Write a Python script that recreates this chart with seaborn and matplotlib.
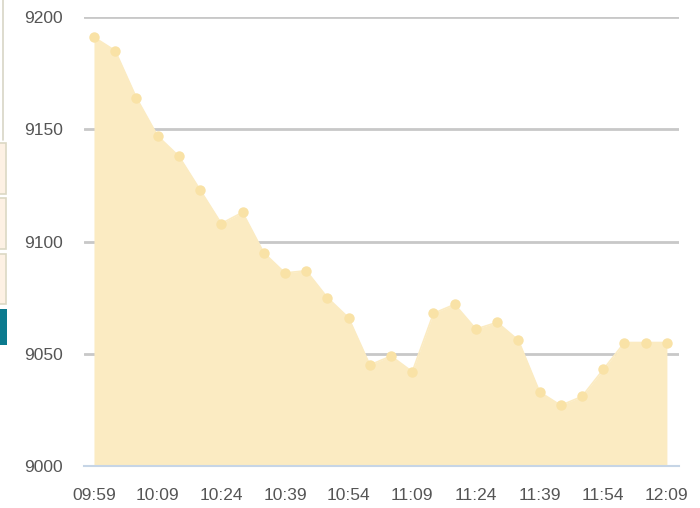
import numpy as np
import pandas as pd
import matplotlib
matplotlib.use("Agg")
import matplotlib.pyplot as plt
import seaborn as sns
from matplotlib.patches import Rectangle
from matplotlib.lines import Line2D

# index level, one point per step
values = [9191, 9185, 9164, 9147, 9138, 9123, 9108, 9113, 9095, 9086,
          9087, 9075, 9066, 9045, 9049, 9042, 9068, 9072, 9061, 9064,
          9056, 9033, 9027, 9031, 9043, 9055, 9055, 9055]
tick_labels = ["09:59", "10:09", "10:24", "10:39", "10:54",
               "11:09", "11:24", "11:39", "11:54", "12:09"]
y_ticks = [9000, 9050, 9100, 9150, 9200]

df = pd.DataFrame({"step": np.arange(len(values)), "level": values})

sns.set_theme(style="white")
plt.rcParams["font.family"] = ["Liberation Sans", "DejaVu Sans"]

fig = plt.figure(figsize=(7, 5.08), dpi=100)
ax = fig.add_axes([84 / 700, 1 - 466 / 508, (679 - 84) / 700, (466 - 17) / 508])

fill_col = "#fbebc2"
mark_col = "#f9e2a6"

ax.fill_between(df["step"], df["level"], 9000, color=fill_col, lw=0, zorder=2)
sns.lineplot(data=df, x="step", y="level", ax=ax, color=fill_col, lw=1.2,
             marker="o", markersize=7.5, markerfacecolor=mark_col,
             markeredgewidth=0, zorder=3)

ax.set_xlim(-0.47, 27.57)
ax.set_ylim(9000, 9200)
ax.set_yticks(y_ticks)
ax.set_yticklabels([str(v) for v in y_ticks], color="#555555", fontsize=12.5)
ax.set_xticks(df["step"][::3])
ax.set_xticklabels(tick_labels, color="#555555", fontsize=12.5)
ax.set_xlabel("")
ax.set_ylabel("")

ax.grid(axis="y", color="#c8c8c8", lw=2, zorder=1)
for s in ["top", "right", "left"]:
    ax.spines[s].set_visible(False)
ax.spines["bottom"].set_color("#c6d5e6")
ax.spines["bottom"].set_linewidth(1.5)
ax.spines["bottom"].set_zorder(4)
ax.tick_params(axis="x", length=12, width=1.2, color="#c6d5e6", pad=4)
ax.tick_params(axis="y", length=0, pad=15)

# leftover page widgets at the left edge
H = 508
fig.add_artist(Line2D([3 / 700, 3 / 700], [1, 1 - 140 / H], color="#d8d6c6", lw=1.2))
for top, bot in [(143, 194), (198, 249), (254, 304)]:
    fig.add_artist(Rectangle((-1 / 700, 1 - bot / H), 7 / 700, (bot - top) / H,
                             facecolor="#fdf1e4", edgecolor="#dcd8c4", lw=1.2))
fig.add_artist(Rectangle((0, 1 - 345 / H), 7 / 700, 36 / H,
                         facecolor="#0b7a8e", edgecolor="none"))

fig.savefig("out.png", dpi=100)
